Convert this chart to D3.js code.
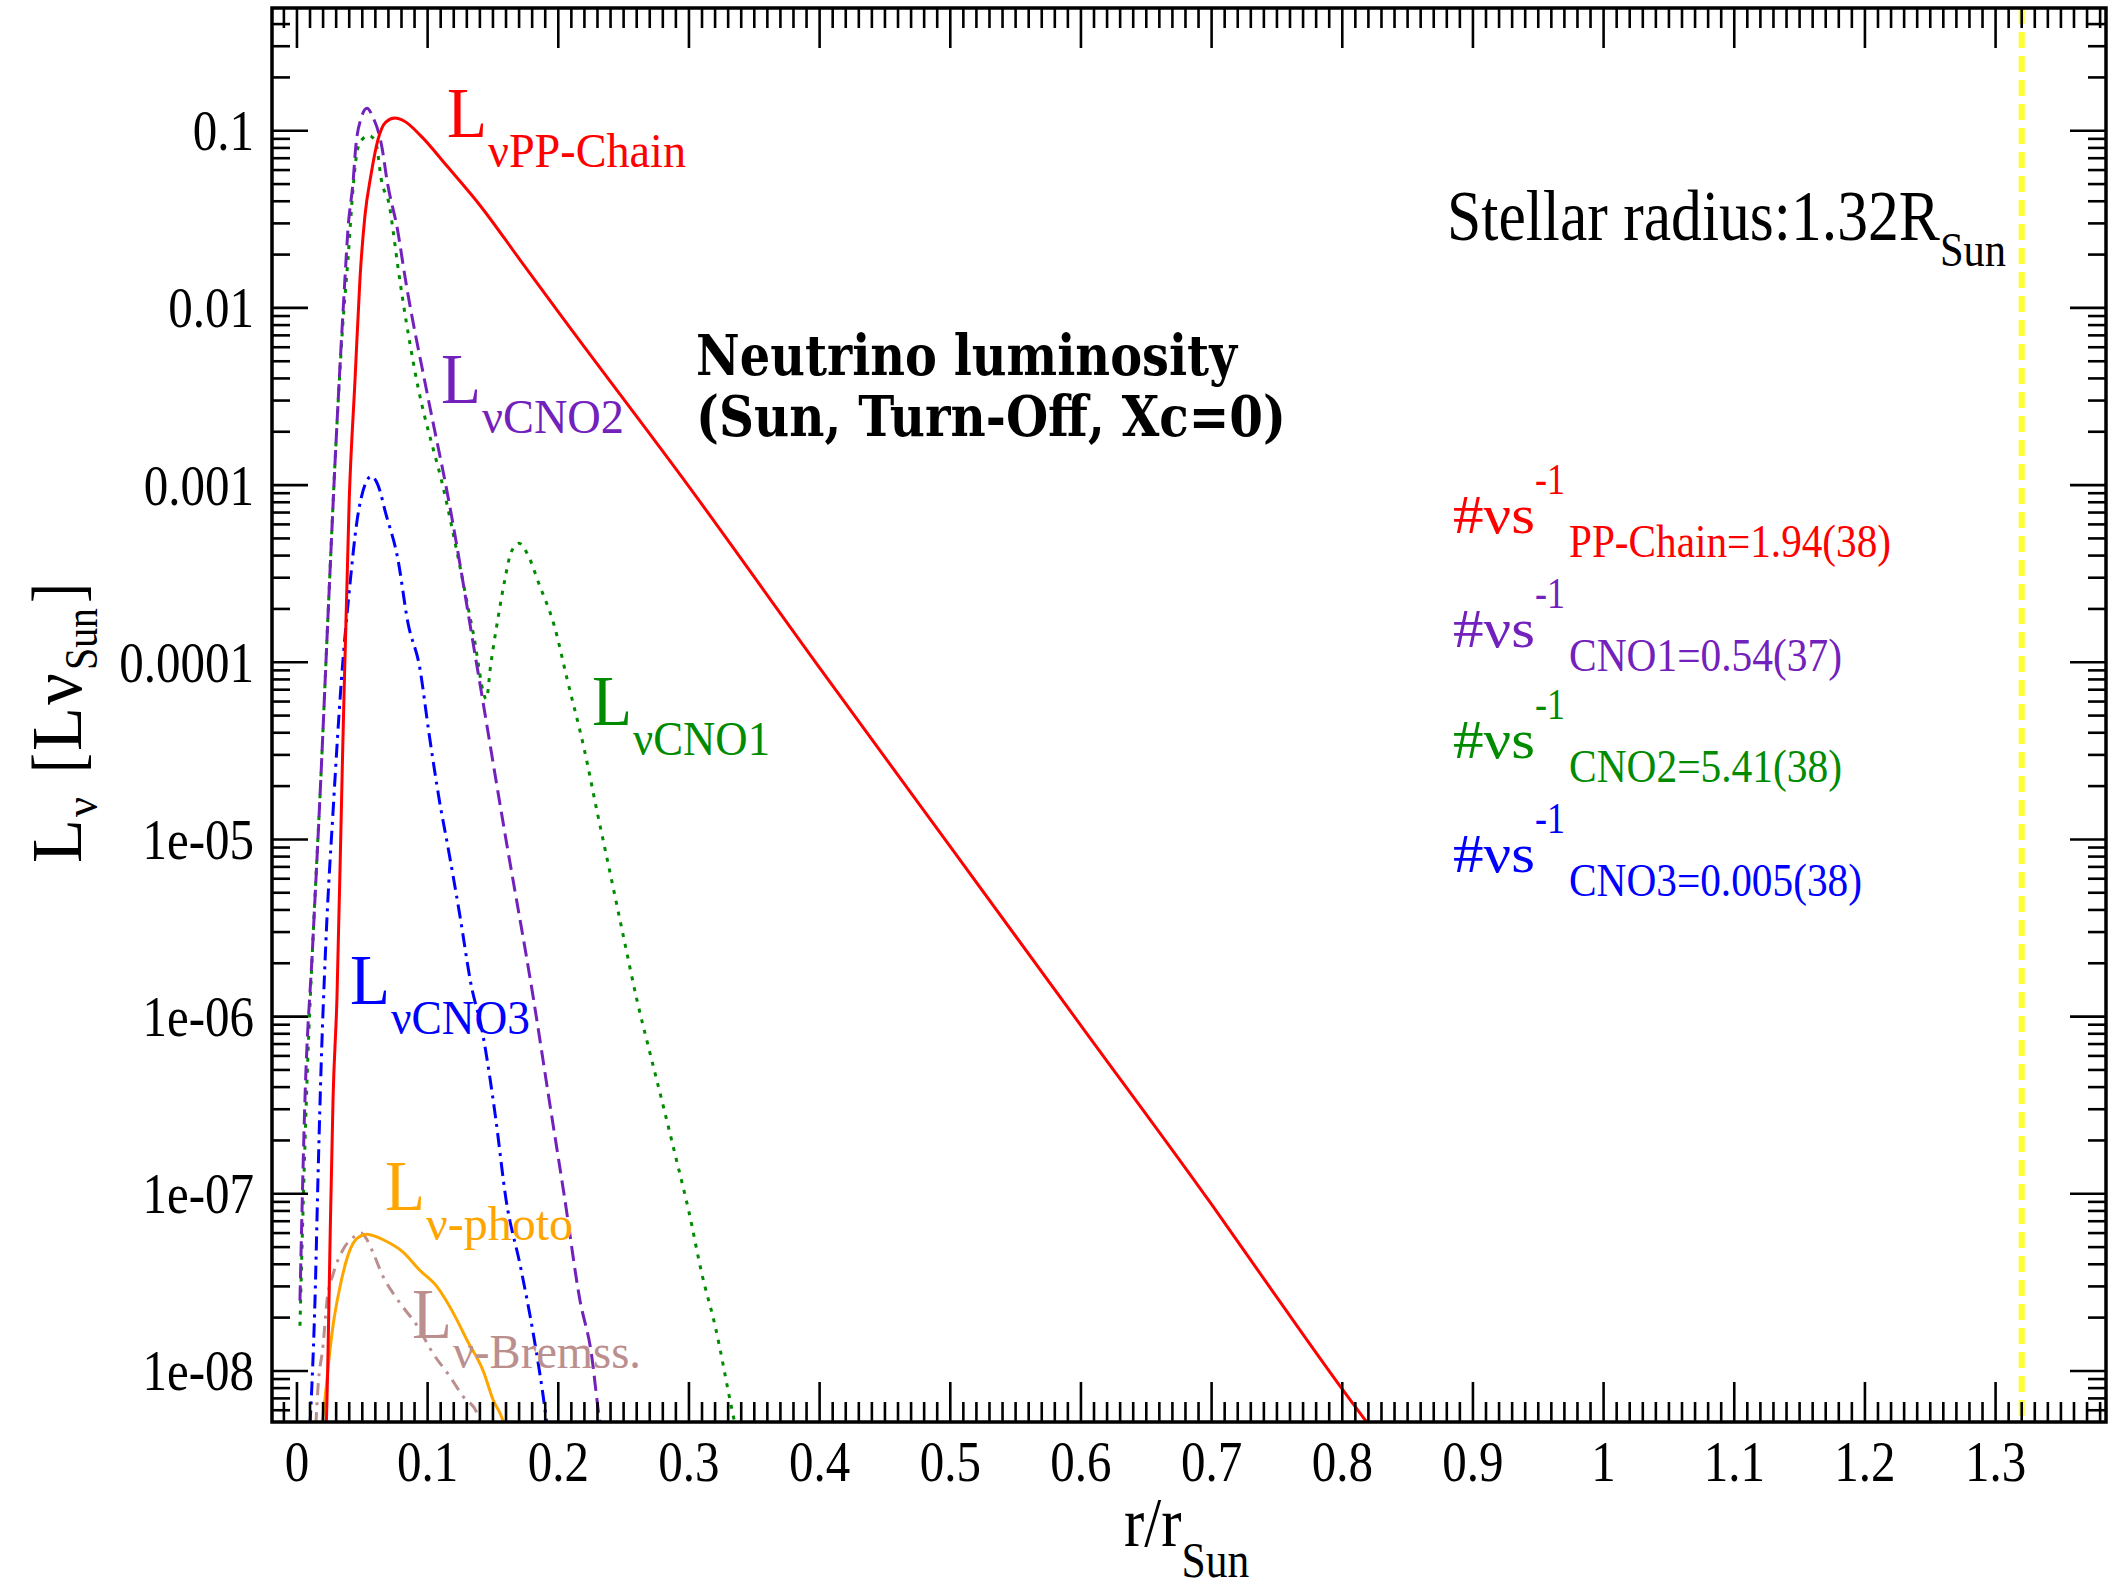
<!DOCTYPE html>
<html><head><meta charset="utf-8">
<script src="https://cdn.jsdelivr.net/npm/d3@7"></script>
<style>body{margin:0;background:#fff}svg{display:block}</style>
</head><body>
<svg id="c" width="2114" height="1587"></svg>
<script>
// ---------- data ----------
const xMajorTicks = [0,0.1,0.2,0.3,0.4,0.5,0.6,0.7,0.8,0.9,1,1.1,1.2,1.3];
const xTickLabels = ["0","0.1","0.2","0.3","0.4","0.5","0.6","0.7","0.8","0.9","1","1.1","1.2","1.3"];
const yMajorTicks = [1e-8,1e-7,1e-6,1e-5,1e-4,1e-3,1e-2,1e-1];
const yTickLabels = ["1e-08","1e-07","1e-06","1e-05","0.0001","0.001","0.01","0.1"];
const stellarRadius = 1.32;

const rPP = [0.0225,0.0235,0.0255,0.0276,0.0306,0.035,0.040,0.0445,0.0482,0.052,0.0566,0.062,0.068,0.075,0.082,0.095,0.115,0.14,0.17,0.2,0.3,0.4,0.5,0.6,0.7,0.75,0.80,0.82,0.83];
const LPP = [5.0e-9,1.0e-8,6.3e-8,3.4e-7,1.26e-6,3.2e-5,8.3e-4,4.0e-3,1.45e-2,3.3e-2,5.6e-2,8.9e-2,0.112,0.118,0.1135,0.0933,0.063,0.038,0.019,0.0095,9.8e-4,9.3e-5,9.1e-6,8.9e-7,8.7e-8,2.6e-8,7.9e-9,5.0e-9,4.0e-9];

const rCNO2 = [0.0023,0.006,0.012,0.018,0.024,0.030,0.0367,0.039,0.043,0.045,0.049,0.0536,0.058,0.065,0.069,0.077,0.083,0.1,0.116,0.138,0.159,0.181,0.193,0.205,0.2166,0.225,0.232,0.235];
const LCNO2 = [2.5e-8,3.2e-7,2.5e-6,2.0e-5,2.0e-4,1.8e-3,1.45e-2,2.75e-2,5.2e-2,8.1e-2,0.117,0.134,0.120,8.1e-2,5.2e-2,2.75e-2,1.45e-2,3.2e-3,8.3e-4,9.3e-5,1.1e-5,1.26e-6,3.4e-7,9.3e-8,2.5e-8,1.3e-8,5.1e-9,4.0e-9];

const rCNO1 = [0.0023,0.005,0.008,0.012,0.018,0.024,0.030,0.035,0.039,0.043,0.046,0.0497,0.055,0.060,0.065,0.071,0.0735,0.0773,0.09,0.114,0.135,0.145,0.148,0.154,0.159,0.164,0.170,0.177,0.185,0.197,0.207,0.220,0.230,0.240,0.250,0.260,0.270,0.280,0.290,0.300,0.310,0.320,0.333,0.338];
const LCNO1 = [1.8e-8,1.0e-7,5.0e-7,2.5e-6,2.0e-5,2.0e-4,1.8e-3,7.9e-3,1.86e-2,4.8e-2,7.6e-2,8.9e-2,9.4e-2,8.7e-2,5.1e-2,3.7e-2,2.75e-2,1.7e-2,4.5e-3,8.3e-4,1.45e-4,6.2e-5,9.3e-5,1.8e-4,2.9e-4,4.2e-4,4.7e-4,4.0e-4,2.8e-4,1.6e-4,7.9e-5,3.2e-5,1.4e-5,6.3e-6,2.8e-6,1.26e-6,6.3e-7,3.2e-7,1.6e-7,7.9e-8,3.5e-8,1.8e-8,6.0e-9,4.0e-9];

const rCNO3 = [0.010,0.0115,0.0138,0.016,0.018,0.022,0.028,0.034,0.040,0.046,0.052,0.057,0.062,0.068,0.077,0.085,0.094,0.101,0.109,0.116,0.125,0.133,0.142,0.152,0.160,0.171,0.181,0.188,0.193];
const LCNO3 = [5.0e-9,8.5e-9,2.5e-8,1.15e-7,4.0e-7,2.5e-6,1.6e-5,7.9e-5,2.5e-4,6.3e-4,1.0e-3,1.12e-3,1.0e-3,6.9e-4,3.9e-4,1.66e-4,9.3e-5,4.0e-5,1.66e-5,8.7e-6,3.6e-6,1.55e-6,8.1e-7,2.7e-7,9.3e-8,3.9e-8,1.6e-8,7.6e-9,4.0e-9];

const rPhoto = [0.019,0.0214,0.025,0.0276,0.033,0.040,0.046,0.0536,0.060,0.066,0.081,0.094,0.107,0.120,0.130,0.143,0.150,0.157,0.162];
const LPhoto = [5.0e-9,6.9e-9,1.26e-8,1.8e-8,3.0e-8,4.7e-8,5.6e-8,5.9e-8,5.75e-8,5.5e-8,4.7e-8,3.7e-8,3.0e-8,2.1e-8,1.5e-8,9.8e-9,6.9e-9,5.4e-9,4.0e-9];

const rBrem = [0.0145,0.016,0.020,0.023,0.0276,0.035,0.044,0.049,0.053,0.058,0.066,0.0735,0.081,0.092,0.104,0.117,0.127,0.138,0.144];
const LBrem = [5.0e-9,7.9e-9,1.4e-8,2.5e-8,3.5e-8,4.8e-8,5.75e-8,6.0e-8,5.6e-8,4.7e-8,3.4e-8,2.75e-8,2.3e-8,1.8e-8,1.26e-8,9.3e-9,7.2e-9,5.75e-9,4.0e-9];

const legendColors = ["#ff0000","#7221bc","#008b00","#0000ff"];
const legendSubs = ["PP-Chain=1.94(38)","CNO1=0.54(37)","CNO2=5.41(38)","CNO3=0.005(38)"];

// ---------- drawing ----------
const svg = d3.select("#c");
const L = 272, R = 2106, T = 8, B = 1422;
const x = d3.scaleLinear().domain([-0.0191, 1.3845]).range([L, R]);
const y = d3.scaleLog().domain([5.15e-9, 0.493]).range([B, T]);
const SERIF = "'Liberation Serif','Times New Roman',serif";

function txt(s, px, py, size, color, opt) {
  opt = opt || {};
  const t = svg.append("text").attr("x", px).attr("y", py)
    .attr("font-family", opt.family || SERIF).attr("font-size", size)
    .attr("fill", color).text(s);
  if (opt.weight) t.attr("font-weight", opt.weight);
  if (opt.len) t.attr("textLength", opt.len).attr("lengthAdjust", "spacingAndGlyphs");
  if (opt.anchor) t.attr("text-anchor", opt.anchor);
  return t;
}
function ctxt(s, px, py, size, anchor) { // condensed tick label
  return svg.append("text").attr("transform", `translate(${px},${py}) scale(0.86,1)`)
    .attr("font-family", SERIF).attr("font-size", size).attr("text-anchor", anchor)
    .attr("fill", "#000").text(s);
}

svg.append("defs").append("clipPath").attr("id", "clip")
  .append("rect").attr("x", L).attr("y", T).attr("width", R - L).attr("height", B - T);

const plot = svg.append("g").attr("clip-path", "url(#clip)");
const line = d3.line().x(d => x(d[0])).y(d => y(d[1])).curve(d3.curveMonotoneX);
function series(rs, vs, color, dash, w) {
  const p = plot.append("path").datum(rs.map((r, i) => [r, vs[i]]))
    .attr("d", line).attr("fill", "none").attr("stroke", color)
    .attr("stroke-width", w || 3).attr("stroke-linejoin", "round");
  if (dash) p.attr("stroke-dasharray", dash);
}
series(rBrem, LBrem, "#bc8f8f", "12,7,3,7", 3);
series(rCNO1, LCNO1, "#008b00", "4,7", 3);
series(rCNO2, LCNO2, "#7221bc", "15,7", 3);
series(rCNO3, LCNO3, "#0000ff", "14,6,3,6", 3);
series(rPhoto, LPhoto, "#ffa500", null, 3);
series(rPP, LPP, "#ff0000", null, 3);

// stellar radius marker
plot.append("line").attr("x1", x(stellarRadius)).attr("x2", x(stellarRadius))
  .attr("y1", T).attr("y2", B).attr("stroke", "#ffff30").attr("stroke-width", 6)
  .attr("stroke-dasharray", "16,8");

// ticks (inward) on all four sides
const xMinor = d3.range(-1, 139).map(i => i / 100).filter(v => v >= -0.019 && v <= 1.384);
const yMinor = [];
for (let e = -9; e <= -1; e++) for (let m = 1; m <= 9; m++) {
  const v = m * Math.pow(10, e);
  if (v >= 5.15e-9 && v <= 0.493) yMinor.push(v);
}
const tg = svg.append("g").attr("stroke", "#000").attr("stroke-width", 2.6);
xMinor.forEach(v => {
  const isMaj = xMajorTicks.some(t => Math.abs(t - v) < 1e-9);
  const len = isMaj ? 40 : 20;
  tg.append("line").attr("x1", x(v)).attr("x2", x(v)).attr("y1", B).attr("y2", B - len);
  tg.append("line").attr("x1", x(v)).attr("x2", x(v)).attr("y1", T).attr("y2", T + len);
});
yMinor.forEach(v => {
  const isMaj = yMajorTicks.some(t => Math.abs(t - v) / t < 1e-6);
  const len = isMaj ? 36 : 18;
  tg.append("line").attr("x1", L).attr("x2", L + len).attr("y1", y(v)).attr("y2", y(v));
  tg.append("line").attr("x1", R).attr("x2", R - len).attr("y1", y(v)).attr("y2", y(v));
});

// frame
svg.append("rect").attr("x", L).attr("y", T).attr("width", R - L).attr("height", B - T)
  .attr("fill", "none").attr("stroke", "#000").attr("stroke-width", 3.5);

// tick labels
xMajorTicks.forEach((v, i) => ctxt(xTickLabels[i], x(v), 1481, 57, "middle"));
yMajorTicks.forEach((v, i) => ctxt(yTickLabels[i], 254, y(v) + 19.5, 57, "end"));

// axis titles
const xt = svg.append("text").attr("transform", "translate(1124,1546) scale(0.87,1)")
  .attr("font-family", SERIF).attr("fill", "#000");
xt.append("tspan").attr("font-size", 70).text("r/r");
xt.append("tspan").attr("font-size", 50).attr("dy", 31).text("Sun");

const yt = svg.append("g").attr("transform", "translate(81,863) rotate(-90)");
function yp(s, dx, dy, size, w) {
  yt.append("text").attr("x", dx).attr("y", dy).attr("font-family", SERIF)
    .attr("font-size", size).attr("fill", "#000").attr("textLength", w)
    .attr("lengthAdjust", "spacingAndGlyphs").text(s);
}
yp("L", 0, 0, 71, 44);
yp("ν", 46, 16, 46, 20);
yp("[", 90, 0, 71, 20);
yp("L", 112, 0, 71, 44);
yp("ν", 158, 0, 71, 32);
yp("Sun", 193, 16, 46, 62);
yp("]", 260, 0, 71, 20);

// title
const DJ = "'DejaVu Serif',serif";
txt("Neutrino luminosity", 696, 375, 56, "#000", {family: DJ, weight: "bold", len: 541});
txt("(Sun, Turn-Off, Xc=0)", 696, 436, 56, "#000", {family: DJ, weight: "bold", len: 590});

// stellar radius text (single element, subscript as tspan)
const st = svg.append("text").attr("transform", "translate(1447,240) scale(0.868,1)")
  .attr("font-family", SERIF).attr("fill", "#000");
st.append("tspan").attr("font-size", 71).text("Stellar radius:1.32R");
st.append("tspan").attr("font-size", 49).attr("dy", 26).text("Sun");

// curve labels
function clabel(sub, lx, base, color, subLen) {
  txt("L", lx, base, 72, color, {len: 40});
  txt(sub, lx + 41, base + 30, 48, color, {len: subLen});
}
clabel("νPP-Chain", 447, 137, "#ff0000", 198);
clabel("νCNO2", 441, 403, "#7221bc", 142);
clabel("νCNO1", 592, 725, "#008b00", 137);
clabel("νCNO3", 350, 1004, "#0000ff", 139);
clabel("ν-photo", 385, 1210, "#ffa500", 147);
clabel("ν-Bremss.", 412, 1338, "#bc8f8f", 188);

// legend
const legBase = [533, 647, 758, 872];
const legSubLen = [322, 273, 273, 293];
legendColors.forEach((c, i) => {
  txt("#νs", 1453, legBase[i], 54, c, {len: 82});
  txt("-1", 1535, legBase[i] - 39, 44, c, {len: 30});
  txt(legendSubs[i], 1569, legBase[i] + 24, 46, c, {len: legSubLen[i]});
});
</script>
</body></html>
